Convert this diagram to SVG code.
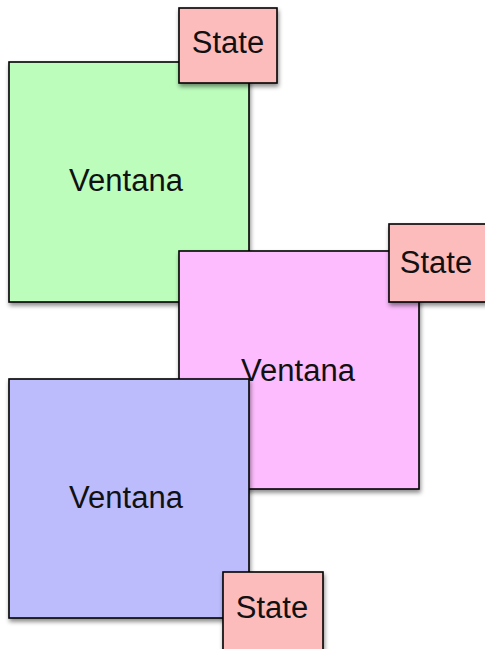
<svg xmlns="http://www.w3.org/2000/svg" width="485" height="649" viewBox="0 0 485 649">
<defs>
<filter id="sh" x="-10%" y="-10%" width="130%" height="130%">
<feDropShadow dx="1" dy="3" stdDeviation="2" flood-color="#000" flood-opacity="0.45"/>
</filter>
</defs>
<style>
.box{stroke:#000;stroke-width:1.6;filter:url(#sh)}
.lbl{font-family:"Liberation Sans",Arial,sans-serif;font-size:31px;fill:#111;text-anchor:middle}
.green{fill:#bcfdbc}
.pink{fill:#fdbcfd}
.blue{fill:#bcbcfd}
.state{fill:#fdbcbc}
</style>
<rect width="485" height="649" fill="#fff"/>
<g id="connectors"/>
<g id="ventana1">
<rect class="box green" x="9" y="62" width="240" height="240"/>
<text class="lbl" x="126" y="191">Ventana</text>
</g>
<g id="state1">
<rect class="box state" x="179" y="8" width="98" height="75"/>
<text class="lbl" x="228" y="53">State</text>
</g>
<g id="ventana2">
<rect class="box pink" x="179" y="251" width="240" height="238"/>
<text class="lbl" x="298" y="381">Ventana</text>
</g>
<g id="state2">
<rect class="box state" x="389" y="224" width="98" height="78"/>
<text class="lbl" x="436" y="273">State</text>
</g>
<g id="ventana3">
<rect class="box blue" x="9" y="379" width="240" height="239"/>
<text class="lbl" x="126" y="508">Ventana</text>
</g>
<g id="state3">
<rect class="box state" x="223" y="572" width="100" height="78"/>
<text class="lbl" x="272" y="618">State</text>
</g>
</svg>
